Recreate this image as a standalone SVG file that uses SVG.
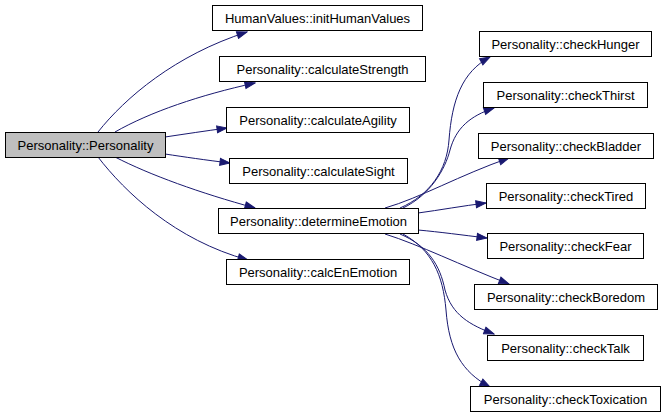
<svg xmlns="http://www.w3.org/2000/svg" width="665" height="417" viewBox="0 0 665 417">
<style>
.n rect{fill:#ffffff;stroke:#000000;stroke-width:1}
.n.root rect{fill:#bfbfbf}
.n text{font-family:"Liberation Sans",Arial,sans-serif;font-size:13px;fill:#000000;text-anchor:middle}
.e path{fill:none;stroke:#191970;stroke-width:1;marker-end:url(#arr)}
</style>
<defs>
<marker id="arr" markerUnits="userSpaceOnUse" markerWidth="12" markerHeight="9" refX="11" refY="4.5" orient="auto">
<path d="M1,1 L11,4.5 L1,8 z" fill="#191970" stroke="#191970"/>
</marker>
</defs>
<rect width="665" height="417" fill="#ffffff"/>
<g id="edges" class="e">
<path d="M98,132 C125,98 175,55 247,32"/>
<path d="M115,132 C150,112 200,95 255,83"/>
<path d="M165,137 C185,134 205,131 227,128"/>
<path d="M165,154 C185,157 205,160 230,163"/>
<path d="M115,157 C150,175 200,193 255,208"/>
<path d="M98,157 C125,192 175,240 248,260"/>
<path d="M400,208 C430,195 447,170 449,140 C452,100 462,72 490,57"/>
<path d="M403,208 C430,195 445,170 450,150 C456,128 470,116 494,108"/>
<path d="M385,208 C420,198 460,175 509,158"/>
<path d="M418,213 C440,210 462,206 486,203"/>
<path d="M418,230 C440,232 462,235 487,238"/>
<path d="M385,234 C420,245 460,265 509,284"/>
<path d="M400,234 C428,246 440,265 445,290 C452,315 470,325 494,334"/>
<path d="M403,234 C432,250 443,275 446,310 C449,350 462,372 490,387"/>
</g>
<g id="n_personality" class="n root"><rect x="5.5" y="132.5" width="160" height="25"/><text x="85.5" y="149.5">Personality::Personality</text></g>
<g id="n_initHumanValues" class="n"><rect x="212.5" y="5.5" width="210" height="25"/><text x="317.5" y="22.5">HumanValues::initHumanValues</text></g>
<g id="n_calculateStrength" class="n"><rect x="219.5" y="56.5" width="206" height="25"/><text x="322.5" y="73.5">Personality::calculateStrength</text></g>
<g id="n_calculateAgility" class="n"><rect x="226.5" y="107.5" width="183" height="25"/><text x="318" y="124.5">Personality::calculateAgility</text></g>
<g id="n_calculateSight" class="n"><rect x="229.5" y="158.5" width="178" height="25"/><text x="318.5" y="175.5">Personality::calculateSight</text></g>
<g id="n_determineEmotion" class="n"><rect x="218.5" y="208.5" width="200" height="25"/><text x="318.5" y="225.5">Personality::determineEmotion</text></g>
<g id="n_calcEnEmotion" class="n"><rect x="226.5" y="259.5" width="183" height="25"/><text x="318" y="276.5">Personality::calcEnEmotion</text></g>
<g id="n_checkHunger" class="n"><rect x="479.5" y="31.5" width="172" height="25"/><text x="565.5" y="48.5">Personality::checkHunger</text></g>
<g id="n_checkThirst" class="n"><rect x="483.5" y="82.5" width="164" height="25"/><text x="565.5" y="99.5">Personality::checkThirst</text></g>
<g id="n_checkBladder" class="n"><rect x="478.5" y="133.5" width="175" height="25"/><text x="566" y="150.5">Personality::checkBladder</text></g>
<g id="n_checkTired" class="n"><rect x="486.5" y="183.5" width="159" height="25"/><text x="566" y="200.5">Personality::checkTired</text></g>
<g id="n_checkFear" class="n"><rect x="487.5" y="233.5" width="156" height="25"/><text x="565.5" y="250.5">Personality::checkFear</text></g>
<g id="n_checkBoredom" class="n"><rect x="474.5" y="284.5" width="183" height="25"/><text x="566" y="301.5">Personality::checkBoredom</text></g>
<g id="n_checkTalk" class="n"><rect x="487.5" y="335.5" width="156" height="25"/><text x="565.5" y="352.5">Personality::checkTalk</text></g>
<g id="n_checkToxication" class="n"><rect x="470.5" y="386.5" width="190" height="25"/><text x="565.5" y="403.5">Personality::checkToxication</text></g>
</svg>
